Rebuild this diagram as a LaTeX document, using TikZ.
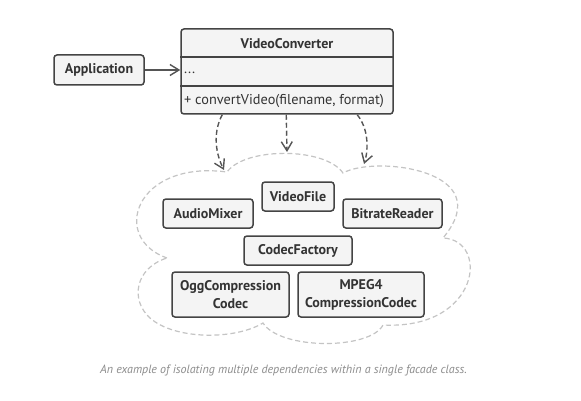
\documentclass[tikz,border=0pt]{standalone}
\usepackage{fontspec}
\setmainfont{PT Sans}
\usetikzlibrary{arrows.meta,calc}
\definecolor{boxfill}{HTML}{F4F4F4}
\definecolor{boxline}{HTML}{444444}
\definecolor{txt}{HTML}{333333}
\definecolor{arr}{HTML}{555555}
\definecolor{cloudc}{HTML}{C4C4C4}
\definecolor{capc}{HTML}{8C8C8C}
\begin{document}
\begin{tikzpicture}[x=1pt,y=-1pt,
  cls/.style={draw=boxline, fill=boxfill, line width=1.5pt, rounded corners=3pt, inner sep=0pt,
    font=\fontsize{14}{18}\selectfont\bfseries, text=txt, align=center},
  member/.style={inner sep=0pt, anchor=west, text=txt, font=\fontsize{14.3}{16}\selectfont},
  dep/.style={draw=arr, line width=1.4pt, dash pattern=on 5pt off 3pt,
    -{Straight Barb[length=9pt,width=11pt]}},
  assoc/.style={draw=arr, line width=1.4pt, -{Straight Barb[length=9pt,width=11pt]}},
  cloudline/.style={draw=cloudc, line width=1.2pt, dash pattern=on 5pt off 3pt},
  caption/.style={text=capc, font=\fontsize{12}{14}\selectfont\itshape}
]
\useasboundingbox[fill=white] (0,0) rectangle (581,401);

% facade class
\node[cls, minimum width=212pt, minimum height=85pt] (vc) at (287,71.5) {};
\draw[draw=boxline, line width=1.5pt] ($(vc.north west)+(0,29)$) coordinate (d1) -- ($(vc.north east)+(0,29)$);
\draw[draw=boxline, line width=1.5pt] ($(vc.north west)+(0,58)$) coordinate (d2) -- ($(vc.north east)+(0,58)$);
\node[cls, draw=none, fill=none] (vct) at (287,43.5) {VideoConverter};
\node[member] (vcf) at (184,73) {...};
\node[member] (vcm) at (184,100.5) {+ convertVideo(filename, format)};

% client
\node[cls, minimum width=90pt, minimum height=30pt] (app) at (99,70) {Application};
\draw[assoc] (app.east) -- (app.east -| vc.west);

% subsystem classes
\node[cls, minimum width=72pt, minimum height=29pt] (vf) at (298,196.5) {VideoFile};
\node[cls, minimum width=90pt, minimum height=29pt] (am) at (208,213.5) {AudioMixer};
\node[cls, minimum width=99pt, minimum height=29pt] (br) at (392.5,213.5) {BitrateReader};
\node[cls, minimum width=108pt, minimum height=29pt] (cf) at (298,250.5) {CodecFactory};
\node[cls, minimum width=117pt, minimum height=45pt] (ogg) at (230.5,294.5) {OggCompression\\Codec};
\node[cls, minimum width=126pt, minimum height=45pt] (mp) at (361,294.5) {MPEG4\\CompressionCodec};

% cloud outline
\coordinate (cA) at (167,258);
\coordinate (cB) at (227,172);
\coordinate (cC) at (343,173);
\coordinate (cD) at (443,238);
\coordinate (cE) at (383,325);
\coordinate (cF) at (263,323);
\draw[cloudline] (cA) .. controls (110,238) and (135,160) .. (cB)
  .. controls (245,147) and (325,147) .. (cC)
  .. controls (375,155) and (500,170) .. (cD)
  .. controls (490,240) and (480,330) .. (cE)
  .. controls (370,350) and (280,350) .. (cF)
  .. controls (235,340) and (175,340) .. (150,318)
  .. controls (130,300) and (135,268) .. (cA);

% dependency arrows
\coordinate (s1) at ($(vc.south west)+(42,0)$);
\coordinate (s2) at ($(vc.south west)+(106,0)$);
\coordinate (s3) at ($(vc.south west)+(177,0)$);
\coordinate (t1) at (224,170);
\coordinate (t2) at (287,152);
\coordinate (t3) at (364,164);
\draw[dep] (s1) .. controls (214,130) and (214,150) .. (t1);
\draw[dep] (s2) -- (t2);
\draw[dep] (s3) .. controls (368,128) and (369,148) .. (t3);

% caption
\node[caption] (cap) at (283.5,370) {An example of isolating multiple dependencies within a single facade class.};
\end{tikzpicture}
\end{document}
